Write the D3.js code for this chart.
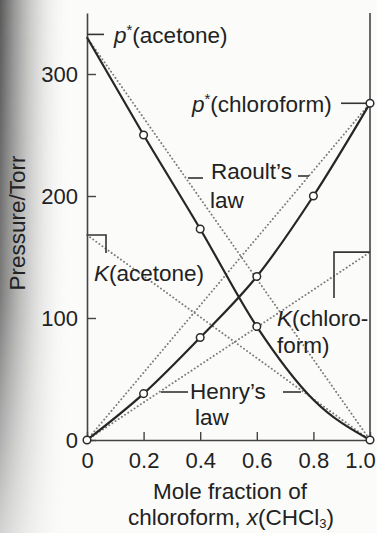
<!DOCTYPE html>
<html>
<head>
<meta charset="utf-8">
<script src="https://cdn.jsdelivr.net/npm/d3@7"></script>
<style>
  html, body { margin: 0; padding: 0; background: #fbfbfa; }
  svg { display: block; }
  text { font-family: "Liberation Sans", Arial, Helvetica, sans-serif; fill: #222; }
</style>
</head>
<body>
<svg id="chart" width="377" height="533"></svg>
<script>
// Mole fraction of chloroform at the measured compositions
const moleFraction = [0, 0.2, 0.4, 0.6, 0.8, 1.0];
// Partial vapour pressures (Torr)
const pAcetone = [330, 250, 173, 93, 33, 0];
const pChloroform = [0, 38, 84, 134, 200, 276];
// Which points carry an open-circle marker
const markAcetone = [false, true, true, true, false, true];
const markChloroform = [true, true, true, true, true, true];
// Henry's-law constants (Torr)
const kAcetone = 168;
const kChloroform = 154;
// Axis ticks
const xTicks = [0, 0.2, 0.4, 0.6, 0.8, 1.0];
const xTickLabels = ["0", "0.2", "0.4", "0.6", "0.8", "1.0"];
const yTicks = [0, 100, 200, 300];

const svg = d3.select("#chart");
const W = 377, H = 533;

const x = d3.scaleLinear().domain([0, 1]).range([87, 370]);
const y = d3.scaleLinear().domain([0, 350]).range([440, 13]);

// page shading along the left edge
const defs = svg.append("defs");
const gShade = defs.append("linearGradient").attr("id", "shade").attr("x1", 0).attr("x2", 1).attr("y1", 0).attr("y2", 0);
gShade.append("stop").attr("offset", 0).attr("stop-color", "#3c3c3c").attr("stop-opacity", 0.85);
gShade.append("stop").attr("offset", 0.35).attr("stop-color", "#777").attr("stop-opacity", 0.5);
gShade.append("stop").attr("offset", 1).attr("stop-color", "#ffffff").attr("stop-opacity", 0);
const gFade = defs.append("linearGradient").attr("id", "fade").attr("x1", 0).attr("x2", 0).attr("y1", 0).attr("y2", 1);
gFade.append("stop").attr("offset", 0).attr("stop-color", "#fff").attr("stop-opacity", 1);
gFade.append("stop").attr("offset", 0.55).attr("stop-color", "#fff").attr("stop-opacity", 0.8);
gFade.append("stop").attr("offset", 1).attr("stop-color", "#fff").attr("stop-opacity", 0.25);
defs.append("mask").attr("id", "fadeMask")
  .append("rect").attr("x", 0).attr("y", 0).attr("width", 80).attr("height", H).attr("fill", "url(#fade)");
svg.append("rect").attr("x", 0).attr("y", 0).attr("width", 70).attr("height", H)
  .attr("fill", "url(#shade)").attr("mask", "url(#fadeMask)");

const FS = 22.5;   // annotation and title size
const TS = 22;     // tick label size
const ink = "#222";

// axes
const yAxis = d3.axisLeft(y).tickValues(yTicks).tickSizeInner(-9).tickSizeOuter(0).tickPadding(9);
const gy = svg.append("g").attr("transform", `translate(${x(0)},0)`).call(yAxis);
gy.selectAll("text").style("font-size", TS + "px").attr("fill", ink);

const xAxis = d3.axisBottom(x).tickValues(xTicks).tickSizeInner(-8).tickSizeOuter(0).tickPadding(12)
  .tickFormat((d, i) => xTickLabels[i]);
const gx = svg.append("g").attr("transform", `translate(0,${y(0)})`).call(xAxis);
gx.selectAll("text").style("font-size", TS + "px").attr("fill", ink);
gx.selectAll(".tick").filter(d => d === 1).select("text").attr("dx", "-10");

[gy, gx].forEach(g => {
  g.select(".domain").attr("stroke", "#444").attr("stroke-width", 1.6);
  g.selectAll(".tick line").attr("stroke", "#444").attr("stroke-width", 1.4);
});

// right-hand frame line
svg.append("line").attr("x1", x(1)).attr("x2", x(1)).attr("y1", y.range()[1]).attr("y2", y(0))
  .attr("stroke", "#444").attr("stroke-width", 1.6);

// ideal-solution reference lines (dotted)
const dotted = [
  [[0, pAcetone[0]], [1, 0]],            // Raoult, acetone
  [[0, 0], [1, pChloroform[5]]],          // Raoult, chloroform
  [[0, kAcetone], [1, 0]],                // Henry, acetone
  [[0, 0], [1, kChloroform]]              // Henry, chloroform
];
const seg = d3.line().x(d => x(d[0])).y(d => y(d[1]));
svg.selectAll("path.ref").data(dotted).join("path")
  .attr("class", "ref")
  .attr("d", seg)
  .attr("fill", "none")
  .attr("stroke", "#7a7a7a")
  .attr("stroke-width", 1.9)
  .attr("stroke-linecap", "round")
  .attr("stroke-dasharray", "0.1,3.7");

// measured curves
const curve = d3.line().x(d => x(d[0])).y(d => y(d[1])).curve(d3.curveMonotoneX);
const series = [
  { vals: pAcetone, marks: markAcetone },
  { vals: pChloroform, marks: markChloroform }
];
series.forEach(s => {
  const pts = moleFraction.map((m, i) => [m, s.vals[i]]);
  svg.append("path").attr("d", curve(pts)).attr("fill", "none")
    .attr("stroke", "#262626").attr("stroke-width", 2.2);
});

// leader lines and Henry's-constant brackets
const lead = svg.append("g").attr("stroke", "#333").attr("stroke-width", 1.6).attr("fill", "none");
lead.append("line").attr("x1", x(0)).attr("x2", x(0) + 17).attr("y1", y(pAcetone[0]) - 3).attr("y2", y(pAcetone[0]) - 3);
lead.append("line").attr("x1", 341).attr("x2", x(1) - 4).attr("y1", y(pChloroform[5])).attr("y2", y(pChloroform[5]));
lead.append("path").attr("d", `M${x(0)},${y(kAcetone)}H${x(0) + 19}V${y(kAcetone) + 18}`);
lead.append("path").attr("d", `M${x(1)},${y(kChloroform)}H${x(1) - 36}V${y(kChloroform) + 46}`);
// Raoult's-law leaders
lead.append("line").attr("x1", 188).attr("x2", 203).attr("y1", 178).attr("y2", 178);
lead.append("line").attr("x1", 298).attr("x2", 309).attr("y1", 176).attr("y2", 176);
// Henry's-law leaders
lead.append("line").attr("x1", 161).attr("x2", 188).attr("y1", 392).attr("y2", 392);
lead.append("line").attr("x1", 283).attr("x2", 301).attr("y1", 392).attr("y2", 392);

// open-circle markers
series.forEach(s => {
  const pts = moleFraction.map((m, i) => ({ m, v: s.vals[i], on: s.marks[i] })).filter(d => d.on);
  svg.selectAll(null).data(pts).join("circle")
    .attr("cx", d => x(d.m)).attr("cy", d => y(d.v)).attr("r", 3.8)
    .attr("fill", "#fff").attr("stroke", "#2b2b2b").attr("stroke-width", 1.5);
});

// annotations
function label(xp, yp, parts, anchor) {
  const t = svg.append("text").attr("x", xp).attr("y", yp).style("font-size", FS + "px")
    .attr("text-anchor", anchor || "start");
  parts.forEach(p => {
    const ts = t.append("tspan").text(p.t);
    if (p.i) ts.style("font-style", "italic");
    if (p.sup) ts.style("font-size", "15px").attr("dy", -8);
    if (p.back) ts.attr("dy", 8);
    if (p.sub) ts.style("font-size", "13px").attr("dy", 3);
    if (p.subBack) ts.attr("dy", -3);
  });
  return t;
}
label(114, 43, [{ t: "p", i: true }, { t: "*", sup: true }, { t: "(acetone)", back: true }]);
label(192, 112, [{ t: "p", i: true }, { t: "*", sup: true }, { t: "(chloroform)", back: true }]);
label(211, 179, [{ t: "Raoult\u2019s" }]);
label(210, 208, [{ t: "law" }]);
label(94, 281, [{ t: "K", i: true }, { t: "(acetone)" }]);
label(277, 326, [{ t: "K", i: true }, { t: "(chloro-" }]);
label(277, 353, [{ t: "form)" }]);
label(190, 399, [{ t: "Henry\u2019s" }]);
label(195, 425, [{ t: "law" }]);

// axis titles
svg.append("text").attr("transform", "translate(25,223) rotate(-90)")
  .attr("text-anchor", "middle").style("font-size", FS + "px").text("Pressure/Torr");
label(230, 499, [{ t: "Mole fraction of" }], "middle");
label(231, 525, [{ t: "chloroform, " }, { t: "x", i: true }, { t: "(CHCl" }, { t: "3", sub: true }, { t: ")", subBack: true }], "middle");
</script>
</body>
</html>
